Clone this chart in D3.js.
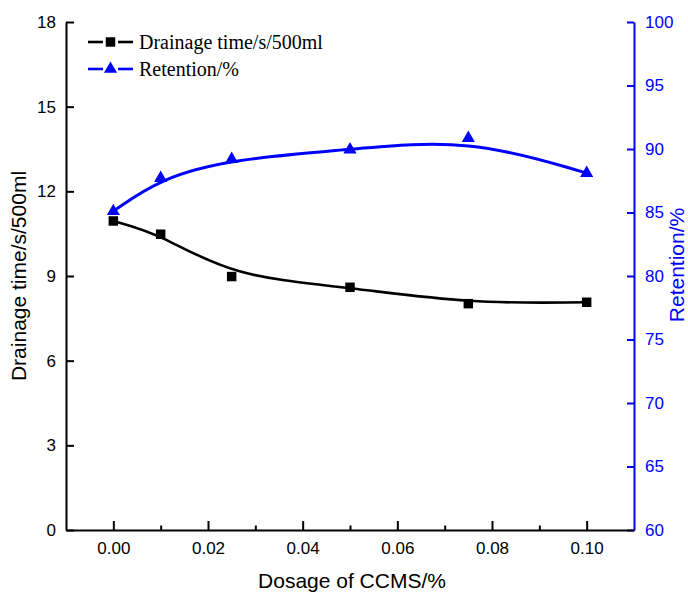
<!DOCTYPE html>
<html>
<head>
<meta charset="utf-8">
<script src="https://cdn.jsdelivr.net/npm/d3@7"></script>
<style>
  html, body { margin: 0; padding: 0; background: #fff; }
  svg { display: block; }
</style>
</head>
<body>
<svg id="chart" width="688" height="592"></svg>
<script>
// Dosage of CCMS (%) on the x axis
const dosage = [0, 0.01, 0.025, 0.05, 0.075, 0.1];
// Drainage time (s/500ml), left axis
const drainage = [10.95, 10.48, 8.98, 8.6, 8.02, 8.07];
// Retention (%), right axis
const retention = [85.1, 87.7, 89.2, 89.95, 90.85, 88.1];

const xMajorTicks = [0, 0.02, 0.04, 0.06, 0.08, 0.1];
const xMinorTicks = [0.01, 0.03, 0.05, 0.07, 0.09];
const leftTicks = [0, 3, 6, 9, 12, 15, 18];
const rightTicks = [60, 65, 70, 75, 80, 85, 90, 95, 100];

const BLUE = "#0000ff";
const BLACK = "#000000";
const SANS = "'Liberation Sans', Arial, sans-serif";
const SERIF = "'Liberation Serif', 'Times New Roman', serif";

const svg = d3.select("#chart");

const x = d3.scaleLinear().domain([-0.01, 0.11]).range([66, 634]);
const yL = d3.scaleLinear().domain([0, 18]).range([530, 22]);
const yR = d3.scaleLinear().domain([60, 100]).range([530, 22]);

function styleAxis(g, color) {
  g.select(".domain").attr("stroke", color).attr("stroke-width", 2);
  g.selectAll(".tick line").attr("stroke", color).attr("stroke-width", 2);
  g.selectAll(".tick text")
    .attr("fill", color)
    .style("font-family", SANS)
    .style("font-size", "17px");
}

// Left axis (drainage time)
const gL = svg.append("g").attr("transform", `translate(${x.range()[0]},0)`)
  .call(d3.axisLeft(yL).tickValues(leftTicks).tickSize(-8).tickSizeOuter(0).tickPadding(10));
styleAxis(gL, BLACK);

// Right axis (retention)
const gR = svg.append("g").attr("transform", `translate(${x.range()[1]},0)`)
  .call(d3.axisRight(yR).tickValues(rightTicks).tickSize(-7).tickSizeOuter(0).tickPadding(11));
styleAxis(gR, BLUE);

// Bottom axis with inward major ticks
const gB = svg.append("g").attr("transform", `translate(0,${yL.range()[0]})`)
  .call(d3.axisBottom(x).tickValues(xMajorTicks).tickSize(-9).tickSizeOuter(0)
    .tickPadding(15).tickFormat(d3.format(".2f")));
styleAxis(gB, BLACK);
gB.selectAll(".tick text").attr("dy", "0.55em");

// Bottom axis minor ticks
const gBm = svg.append("g").attr("transform", `translate(0,${yL.range()[0]})`)
  .call(d3.axisBottom(x).tickValues(xMinorTicks).tickSize(-4.5).tickFormat(""));
gBm.select(".domain").remove();
gBm.selectAll(".tick line").attr("stroke", BLACK).attr("stroke-width", 2);

// Axis titles
svg.append("text")
  .attr("transform", `translate(26,${(yL.range()[0] + yL.range()[1]) / 2}) rotate(-90)`)
  .attr("text-anchor", "middle")
  .style("font-family", SANS).style("font-size", "21px")
  .attr("fill", BLACK)
  .text("Drainage time/s/500ml");

svg.append("text")
  .attr("transform", `translate(684,265) rotate(-90)`)
  .attr("text-anchor", "middle")
  .style("font-family", SANS).style("font-size", "21px")
  .attr("fill", BLUE)
  .text("Retention/%");

svg.append("text")
  .attr("x", 352).attr("y", 588)
  .attr("text-anchor", "middle")
  .style("font-family", SANS).style("font-size", "21px")
  .attr("fill", BLACK)
  .text("Dosage of CCMS/%");

// Smoothed curves (B-spline through the data as control points)
const drainLine = d3.line()
  .x((d, i) => x(dosage[i])).y(d => yL(d))
  .curve(d3.curveBasis);
const retLine = d3.line()
  .x((d, i) => x(dosage[i])).y(d => yR(d))
  .curve(d3.curveBasis);

svg.append("path").datum(drainage)
  .attr("d", drainLine)
  .attr("fill", "none").attr("stroke", BLACK).attr("stroke-width", 2.6);

svg.append("path").datum(retention)
  .attr("d", retLine)
  .attr("fill", "none").attr("stroke", BLUE).attr("stroke-width", 3);

// Markers
const sq = d3.symbol().type(d3.symbolSquare).size(90);
const tri = d3.symbol().type(d3.symbolTriangle).size(75);

svg.append("g").selectAll("path").data(drainage).join("path")
  .attr("transform", (d, i) => `translate(${x(dosage[i])},${yL(d)})`)
  .attr("d", sq).attr("fill", BLACK);

svg.append("g").selectAll("path").data(retention).join("path")
  .attr("transform", (d, i) => `translate(${x(dosage[i])},${yR(d)})`)
  .attr("d", tri).attr("fill", BLUE);

// Legend
const legendItems = [
  { label: "Drainage time/s/500ml", color: BLACK, symbol: sq, y: 42 },
  { label: "Retention/%", color: BLUE, symbol: tri, y: 69 }
];
const lg = svg.append("g");
legendItems.forEach(item => {
  lg.append("line").attr("x1", 88).attr("x2", 103).attr("y1", item.y).attr("y2", item.y)
    .attr("stroke", item.color).attr("stroke-width", 2.6);
  lg.append("line").attr("x1", 118).attr("x2", 133).attr("y1", item.y).attr("y2", item.y)
    .attr("stroke", item.color).attr("stroke-width", 2.6);
  lg.append("path").attr("transform", `translate(110.5,${item.y})`)
    .attr("d", item.symbol).attr("fill", item.color);
  lg.append("text").attr("x", 139).attr("y", item.y + 7)
    .style("font-family", SERIF).style("font-size", "20px")
    .attr("fill", BLACK)
    .text(item.label);
});
</script>
</body>
</html>
